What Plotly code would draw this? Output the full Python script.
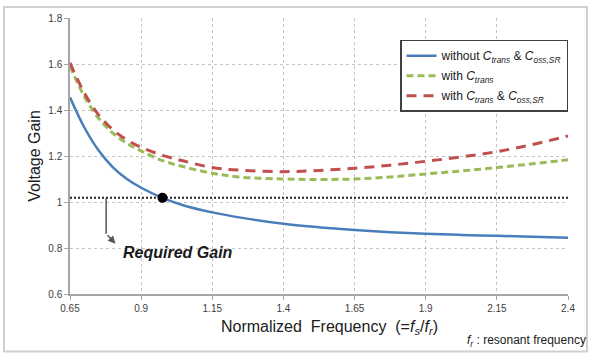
import plotly.graph_objects as go

# Normalized switching frequency (fs/fr)
freq = [0.65, 0.70, 0.75, 0.80, 0.85, 0.90, 0.975, 1.05, 1.15, 1.25, 1.40,
        1.525, 1.65, 1.775, 1.90, 2.025, 2.15, 2.275, 2.40]

# Voltage gain curves
gain_without = [1.455, 1.325, 1.225, 1.152, 1.100, 1.062, 1.018, 0.985, 0.955,
                0.932, 0.905, 0.890, 0.878, 0.869, 0.862, 0.857, 0.853, 0.849, 0.845]
gain_ctrans = [1.590, 1.460, 1.365, 1.300, 1.255, 1.222, 1.180, 1.153, 1.125,
               1.108, 1.100, 1.098, 1.100, 1.109, 1.122, 1.135, 1.150, 1.166, 1.184]
gain_ctrans_coss = [1.605, 1.475, 1.380, 1.315, 1.270, 1.238, 1.203, 1.178, 1.150,
                    1.138, 1.132, 1.137, 1.147, 1.160, 1.177, 1.196, 1.219, 1.250, 1.287]

required_gain = 1.018
crossing_freq = 0.975

x_ticks = [0.65, 0.9, 1.15, 1.4, 1.65, 1.9, 2.15, 2.4]
y_ticks = [0.6, 0.8, 1.0, 1.2, 1.4, 1.6, 1.8]
y_tick_labels = ["0.6", "0.8", "1", "1.2", "1.4", "1.6", "1.8"]

FONT = "Liberation Sans, Arial, sans-serif"
C_TRANS = "<i>C<sub>trans</sub></i>"
C_OSS = "<i>C<sub>oss,SR</sub></i>"

fig = go.Figure()

# Required gain reference line
fig.add_trace(go.Scatter(
    x=[x_ticks[0], x_ticks[-1]], y=[required_gain, required_gain],
    mode="lines", line=dict(color="#222222", width=2, dash="2px,2px"),
    showlegend=False, hoverinfo="skip"))

fig.add_trace(go.Scatter(
    x=freq, y=gain_without, mode="lines", line_shape="spline", legendgroup="a",
    name="without " + C_TRANS + " & " + C_OSS,
    line=dict(color="#4A7EBB", width=2.5)))
fig.add_trace(go.Scatter(
    x=freq, y=gain_ctrans, mode="lines", line_shape="spline", legendgroup="b",
    name="with " + C_TRANS,
    line=dict(color="#9BBB59", width=3, dash="7px,4px")))
fig.add_trace(go.Scatter(
    x=freq, y=gain_ctrans_coss, mode="lines", line_shape="spline", legendgroup="c",
    name="with " + C_TRANS + " & " + C_OSS,
    line=dict(color="#C0504D", width=3, dash="10px,7px")))

# Operating point where the gain meets the requirement
fig.add_trace(go.Scatter(
    x=[crossing_freq], y=[required_gain], mode="markers",
    marker=dict(color="black", size=10), showlegend=False, hoverinfo="skip"))

axis_common = dict(
    showgrid=True, gridcolor="#c4c4c4", griddash="dot", gridwidth=1,
    showline=True, linecolor="#a6a6a6", linewidth=1.5,
    ticks="outside", ticklen=4, tickcolor="#a6a6a6",
    tickfont=dict(family=FONT, size=10, color="#404040"),
    zeroline=False)

fig.update_xaxes(range=[0.65, 2.4], tickvals=x_ticks,
                 ticktext=[f"{v:g}" for v in x_ticks], **axis_common)
fig.update_yaxes(range=[0.6, 1.8], tickvals=y_ticks, ticktext=y_tick_labels,
                 title=dict(text="Voltage Gain", standoff=4,
                            font=dict(family=FONT, size=16, color="#202020")),
                 **axis_common)

# Outer frame
fig.add_shape(type="rect", xref="paper", yref="paper",
              x0=-0.1325, x1=1.038, y0=-0.208, y1=1.04,
              line=dict(color="#cfcfcf", width=2), layer="below")

# Arrow from the required-gain line to its label
fig.add_shape(type="line", xref="x", yref="y",
              x0=0.777, x1=0.777, y0=required_gain, y1=0.862,
              line=dict(color="#555555", width=1.5))
fig.add_annotation(x=0.81, y=0.819, ax=0.777, ay=0.862,
                   xref="x", yref="y", axref="x", ayref="y",
                   text="", showarrow=True, arrowhead=2, arrowsize=1,
                   arrowwidth=1.5, arrowcolor="#555555")
fig.add_annotation(x=1.03, y=0.782, xref="x", yref="y", showarrow=False,
                   text="<b><i>Required Gain</i></b>",
                   font=dict(family=FONT, size=16, color="#1a1a1a"))

# X axis title and footnote
fig.add_annotation(xref="paper", yref="paper", x=(329 - 70) / 498, y=(294 - 328) / 279,
                   xanchor="center", yanchor="middle", showarrow=False,
                   text="Normalized\u00a0 Frequency\u00a0 (=<i>f<sub>s</sub></i>/<i>f<sub>r</sub></i>)",
                   font=dict(family=FONT, size=16, color="#202020"))
fig.add_annotation(xref="paper", yref="paper", x=(588 - 70) / 498, y=(294 - 342) / 279,
                   xanchor="right", yanchor="middle", showarrow=False,
                   text="<i>f<sub>r</sub></i> : resonant frequency",
                   font=dict(family=FONT, size=12, color="#202020"))

fig.update_layout(
    width=591, height=358,
    margin=dict(l=70, r=23, t=15, b=64),
    paper_bgcolor="white", plot_bgcolor="white",
    legend=dict(x=1, y=(294 - 37) / 279, xanchor="right", yanchor="top",
                bgcolor="white", bordercolor="#404040", borderwidth=1.5,
                font=dict(family=FONT, size=12, color="#202020"),
                traceorder="grouped", tracegroupgap=1),
    showlegend=True,
)

fig.write_html("out.html")
